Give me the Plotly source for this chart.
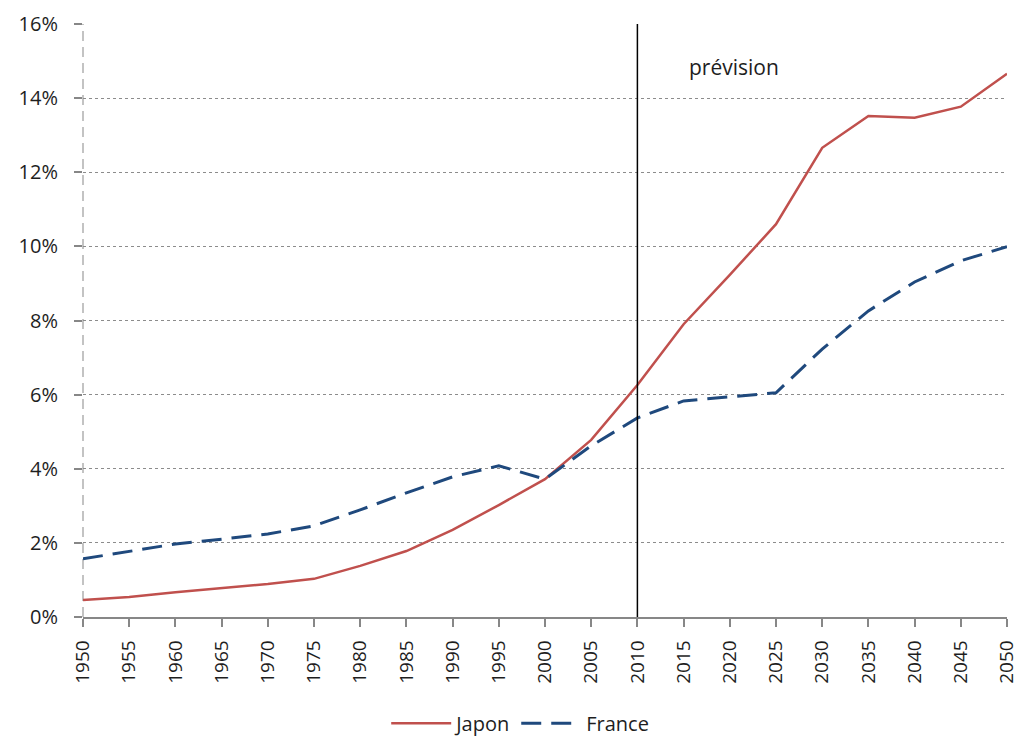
import plotly.graph_objects as go

# Années et parts (en %) pour chaque pays
annees = list(range(1950, 2051, 5))
japon = [0.46, 0.54, 0.67, 0.78, 0.89, 1.03, 1.38, 1.78, 2.35, 3.02, 3.72,
         4.78, 6.26, 7.90, 9.23, 10.60, 12.66, 13.52, 13.47, 13.77, 14.66]
france = [1.57, 1.78, 1.97, 2.10, 2.24, 2.46, 2.89, 3.35, 3.78, 4.08, 3.72,
          4.62, 5.37, 5.83, 5.94, 6.05, 7.23, 8.26, 9.04, 9.61, 9.99]
y_ticks = [0, 2, 4, 6, 8, 10, 12, 14, 16]
annee_prevision = 2010

FONT = "Open Sans"
TXT = "#1e1e1e"
AXIS = "#878787"

fig = go.Figure()
fig.add_trace(go.Scatter(x=annees, y=japon, mode="lines", name="Japon",
                         line=dict(color="#c0504d", width=2.5)))
fig.add_trace(go.Scatter(x=annees, y=france, mode="lines", name="France",
                         line=dict(color="#1f497d", width=3, dash="20px,10px")))

# Séparation historique / prévision
fig.add_shape(type="line", xref="x", yref="y", x0=annee_prevision, x1=annee_prevision,
              y0=0, y1=16, line=dict(color="black", width=1.5), layer="above")
fig.add_annotation(x=2020.5, y=14.85, xref="x", yref="y", text="prévision",
                   showarrow=False, font=dict(family=FONT, size=21, color=TXT))

# Axe vertical en tirets
fig.add_shape(type="line", xref="paper", yref="paper", x0=0, x1=0, y0=0, y1=1,
              line=dict(color=AXIS, width=1, dash="10px,6px"), layer="below")

fig.update_layout(
    width=1020, height=738,
    margin=dict(l=83, r=13, t=24, b=121),
    paper_bgcolor="white", plot_bgcolor="white",
    font=dict(family=FONT, size=19, color=TXT),
    showlegend=True,
    legend=dict(orientation="h", x=0.51, xanchor="center", xref="container",
                y=0.02, yanchor="middle", yref="container",
                itemwidth=60, tracegroupgap=0,
                font=dict(family=FONT, size=20, color=TXT)),
    xaxis=dict(range=[1950, 2050], tickmode="array", tickvals=annees,
               ticktext=[str(a) for a in annees], tickangle=-90,
               ticklabeloverflow="allow", ticklabelstandoff=6, automargin=False,
               showgrid=False, zeroline=False,
               showline=True, linecolor=AXIS, linewidth=1.5,
               ticks="outside", ticklen=8, tickcolor=AXIS, tickwidth=1.5,
               tickfont=dict(family=FONT, size=19, color=TXT)),
    yaxis=dict(range=[0, 16], tickmode="array", tickvals=y_ticks,
               ticktext=[f"{v}%" for v in y_ticks],
               ticklabelstandoff=12, automargin=False,
               showgrid=True, gridcolor="#8c8c8c", gridwidth=1, griddash="dot",
               zeroline=False, showline=False,
               ticks="outside", ticklen=8, tickcolor=AXIS, tickwidth=1.5,
               tickfont=dict(family=FONT, size=20, color=TXT)),
)

fig.write_html("out.html")
